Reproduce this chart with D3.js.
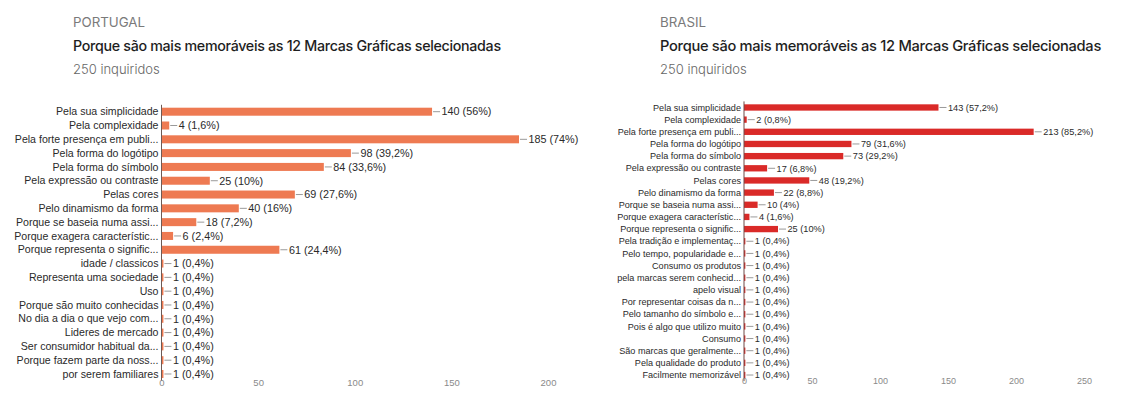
<!DOCTYPE html>
<html>
<head>
<meta charset="utf-8">
<script src="https://cdn.jsdelivr.net/npm/d3@7"></script>
<style>
  html, body { margin: 0; padding: 0; background: #fff; }
  svg { display: block; }
</style>
</head>
<body>
<svg id="chart" width="1146" height="397"></svg>
<script>
// Survey answers: why the 12 selected brand marks are memorable (250 respondents each)
const respondents = 250;

const ptCategories = [
  "Pela sua simplicidade",
  "Pela complexidade",
  "Pela forte presença em publi...",
  "Pela forma do logótipo",
  "Pela forma do símbolo",
  "Pela expressão ou contraste",
  "Pelas cores",
  "Pelo dinamismo da forma",
  "Porque se baseia numa assi...",
  "Porque exagera característic...",
  "Porque representa o signific...",
  "idade / classicos",
  "Representa uma sociedade",
  "Uso",
  "Porque são muito conhecidas",
  "No dia a dia o que vejo com...",
  "Lideres de mercado",
  "Ser consumidor habitual da...",
  "Porque fazem parte da noss...",
  "por serem familiares"
];
const ptValues = [140, 4, 185, 98, 84, 25, 69, 40, 18, 6, 61, 1, 1, 1, 1, 1, 1, 1, 1, 1];
const ptTicks = [0, 50, 100, 150, 200];

const brCategories = [
  "Pela sua simplicidade",
  "Pela complexidade",
  "Pela forte presença em publi...",
  "Pela forma do logótipo",
  "Pela forma do símbolo",
  "Pela expressão ou contraste",
  "Pelas cores",
  "Pelo dinamismo da forma",
  "Porque se baseia numa assi...",
  "Porque exagera característic...",
  "Porque representa o signific...",
  "Pela tradição e implementaç...",
  "Pelo tempo, popularidade e...",
  "Consumo os produtos",
  "pela marcas serem conhecid...",
  "apelo visual",
  "Por representar coisas da n...",
  "Pelo tamanho do símbolo e...",
  "Pois é algo que utilizo muito",
  "Consumo",
  "São marcas que geralmente...",
  "Pela qualidade do produto",
  "Facilmente memorizável"
];
const brValues = [143, 2, 213, 79, 73, 17, 48, 22, 10, 4, 25, 1, 1, 1, 1, 1, 1, 1, 1, 1, 1, 1, 1];
const brTicks = [0, 50, 100, 150, 200, 250];

const svg = d3.select("#chart");

function pct(v) {
  const p = Math.round(v / respondents * 1000) / 10;
  return String(p).replace(".", ",") + "%";
}

// Shrink or grow a text node's font size so it spans the given width
function fitWidth(sel, width, size) {
  sel.attr("font-size", size);
  const w = sel.node().getComputedTextLength();
  if (w > 0) sel.attr("font-size", size * width / w);
}

function drawPanel(cfg) {
  const g = svg.append("g");

  // Header block
  g.append("text")
    .attr("x", cfg.titleX).attr("y", 27)
    .attr("font-family", "Inter, 'Noto Sans', sans-serif")
    .attr("font-size", 13.3).attr("fill", "#7a7a7a")
    .text(cfg.country);
  const title = g.append("text")
    .attr("x", cfg.titleX).attr("y", 50.5)
    .attr("font-family", "Inter, 'Noto Sans', sans-serif")
    .attr("font-weight", 500).attr("fill", "#1e1e1e")
    .attr("letter-spacing", -0.3)
    .text("Porque são mais memoráveis as 12 Marcas Gráficas selecionadas");
  fitWidth(title, cfg.titleWidth, 15);
  g.append("text")
    .attr("x", cfg.titleX).attr("y", 74)
    .attr("font-family", "Inter, 'Noto Sans', sans-serif")
    .attr("font-size", 13).attr("font-weight", 300).attr("fill", "#666")
    .text(respondents + " inquiridos");

  const x = d3.scaleLinear().domain(cfg.domain).range(cfg.xRange);
  const y = d3.scaleBand()
    .domain(cfg.categories)
    .range(cfg.yRange)
    .paddingInner(cfg.padInner)
    .paddingOuter(cfg.padInner / 2);

  const data = cfg.categories.map((c, i) => ({ c, v: cfg.values[i] }));
  const bw = y.bandwidth();

  // Bars
  g.append("g").selectAll("rect").data(data).join("rect")
    .attr("x", x(0))
    .attr("y", d => y(d.c))
    .attr("width", d => x(d.v) - x(0))
    .attr("height", bw)
    .attr("fill", cfg.color);

  // Category labels
  g.append("g").selectAll("text").data(data).join("text")
    .attr("x", x(0) - 3)
    .attr("y", d => y(d.c) + bw / 2)
    .attr("dy", "0.35em")
    .attr("text-anchor", "end")
    .attr("font-family", "'Liberation Sans', Arial, sans-serif")
    .attr("font-size", cfg.labelSize).attr("fill", "#2a2a2a")
    .text(d => d.c);

  // Leader lines and value labels
  g.append("g").selectAll("line").data(data).join("line")
    .attr("x1", d => x(d.v) + 1)
    .attr("x2", d => x(d.v) + 8)
    .attr("y1", d => y(d.c) + bw / 2)
    .attr("y2", d => y(d.c) + bw / 2)
    .attr("stroke", "#9a9a9a").attr("stroke-width", 1);
  g.append("g").selectAll("text").data(data).join("text")
    .attr("x", d => x(d.v) + 9.5)
    .attr("y", d => y(d.c) + bw / 2)
    .attr("dy", "0.35em")
    .attr("font-family", "'Liberation Sans', Arial, sans-serif")
    .attr("font-size", cfg.valueSize).attr("fill", "#2a2a2a")
    .text(d => d.v + " (" + pct(d.v) + ")");

  // Vertical baseline
  g.append("line")
    .attr("x1", x(0)).attr("x2", x(0))
    .attr("y1", cfg.yRange[0]).attr("y2", cfg.yRange[1])
    .attr("stroke", cfg.axisColor).attr("stroke-width", 1);

  // Value axis
  const axis = g.append("g")
    .attr("transform", `translate(0,${cfg.axisY})`)
    .call(d3.axisBottom(x).tickValues(cfg.ticks).tickSize(0).tickPadding(0));
  axis.select(".domain").remove();
  axis.selectAll("text")
    .attr("font-family", "'Liberation Sans', Arial, sans-serif")
    .attr("font-size", cfg.tickSize).attr("fill", "#8a8a8a");
}

drawPanel({
  country: "PORTUGAL",
  titleX: 73,
  titleWidth: 429,
  categories: ptCategories,
  values: ptValues,
  ticks: ptTicks,
  domain: [0, 200],
  xRange: [161.5, 548],
  yRange: [104.8, 380.9],
  padInner: 0.42,
  color: "#ee7a52",
  axisColor: "#6e5a55",
  labelSize: 10.6,
  valueSize: 10.8,
  tickSize: 9.5,
  axisY: 379
});

drawPanel({
  country: "BRASIL",
  titleX: 660,
  titleWidth: 442,
  categories: brCategories,
  values: brValues,
  ticks: brTicks,
  domain: [0, 250],
  xRange: [744, 1084],
  yRange: [101.4, 381.1],
  padInner: 0.48,
  color: "#da2a28",
  axisColor: "#6e4a48",
  labelSize: 9.1,
  valueSize: 9.2,
  tickSize: 9,
  axisY: 378
});
</script>
</body>
</html>
